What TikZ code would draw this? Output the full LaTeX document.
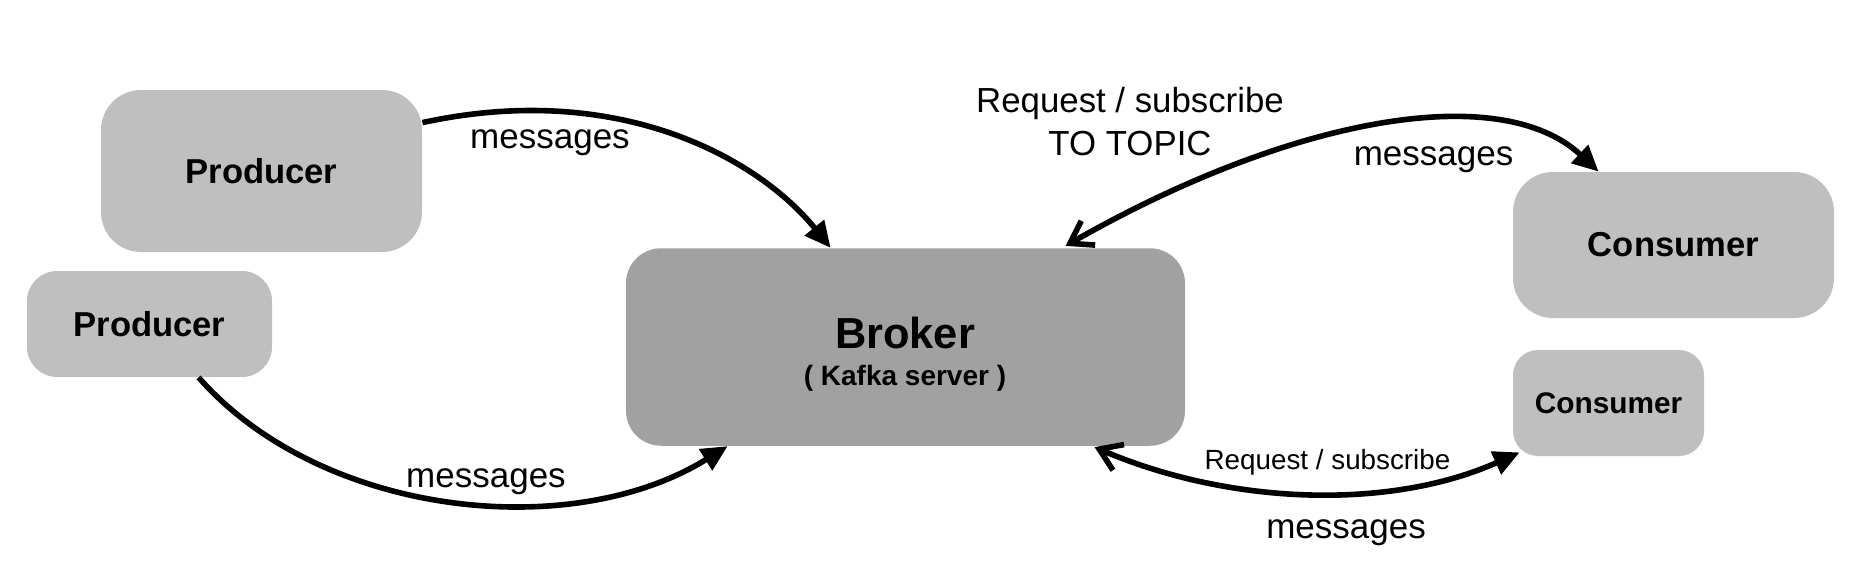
\documentclass[tikz,border=0pt]{standalone}
\usepackage{fontspec}
\setmainfont{Liberation Sans}
\usetikzlibrary{arrows.meta,calc}
\definecolor{boxlight}{RGB}{191,191,191}
\definecolor{boxdark}{RGB}{161,161,161}
\begin{document}
\begin{tikzpicture}[x=0.5pt,y=-0.5pt,
  box/.style={fill=boxlight, draw=none, inner sep=0pt, font=\bfseries\fontsize{17.3}{20}\selectfont},
  lbl/.style={anchor=base, inner sep=0pt, font=\fontsize{17.5}{21}\selectfont},
  conn/.style={line width=2.8pt, draw=black},
  headf/.tip={Triangle[length=13pt,width=12pt]},
  heado/.tip={Straight Barb[length=10.5pt,width=14pt]},
]
\useasboundingbox (0,0) rectangle (1864,568);

% nodes
\node[box, minimum width=160.5pt, minimum height=81pt, rounded corners=20pt] (p1) at (261.5,171) {Producer};
\node[box, minimum width=122.5pt, minimum height=53pt, rounded corners=15pt] (p2) at (149.5,324) {Producer};
\node[box, fill=boxdark, minimum width=279.5pt, minimum height=98.75pt, rounded corners=17.5pt] (b) at (905.5,347) {};
\node[inner sep=0pt, font=\bfseries\fontsize{21.7}{26}\selectfont] (bt) at (905,333) {Broker};
\node[inner sep=0pt, font=\bfseries\fontsize{14}{17}\selectfont] (bs) at (905,378) {( Kafka server )};
\node[box, minimum width=160.5pt, minimum height=73pt, rounded corners=20pt] (c1) at (1673.5,245) {Consumer};
\node[box, minimum width=95.5pt, minimum height=53pt, rounded corners=12.5pt, font=\bfseries\fontsize{14.9}{18}\selectfont] (c2) at (1608.5,403) {Consumer};

% labels
\node[lbl] (m1) at (550,148.6) {messages};
\node[lbl] (m2) at (486,487) {messages};
\node[lbl, font=\fontsize{17.4}{21}\selectfont] (r1a) at (1130,112.5) {Request / subscribe};
\node[lbl, font=\fontsize{17.4}{21}\selectfont] (r1b) at (1130,155.5) {TO TOPIC};
\node[lbl] (m3) at (1433.5,165) {messages};
\node[lbl, font=\fontsize{13.9}{17}\selectfont] (r2) at (1327.5,469) {Request / subscribe};
\node[lbl] (m4) at (1346,538) {messages};

% endpoints
\coordinate (a1s) at ($(p1.north east)+(0,33)$);
\coordinate (a1e) at ($(b.north west)+(205,0)$);
\coordinate (a2s) at ($(p2.south west)+(172,0)$);
\coordinate (a2e) at ($(b.south west)+(102,0)$);
\coordinate (a3s) at ($(b.north west)+(440,-2)$);
\coordinate (a3e) at ($(c1.north west)+(86,0)$);
\coordinate (a4s) at ($(b.south west)+(469,1)$);
\coordinate (a4e) at ($(c2.south west)+(7,-4)$);

% connectors
\draw[conn, -headf] (a1s) .. controls +(198,-43) and +(-71,-88) .. (a1e);
\draw[conn, -headf] (a2s) .. controls +(121,138) and +(-158,98) .. (a2e);
\draw[conn, heado-headf] (a3s) .. controls +(224,-128) and +(-99,-92) .. (a3e);
\draw[conn, heado-headf] (a4s) .. controls +(135,58) and +(-130,58) .. (a4e);
\end{tikzpicture}
\end{document}
